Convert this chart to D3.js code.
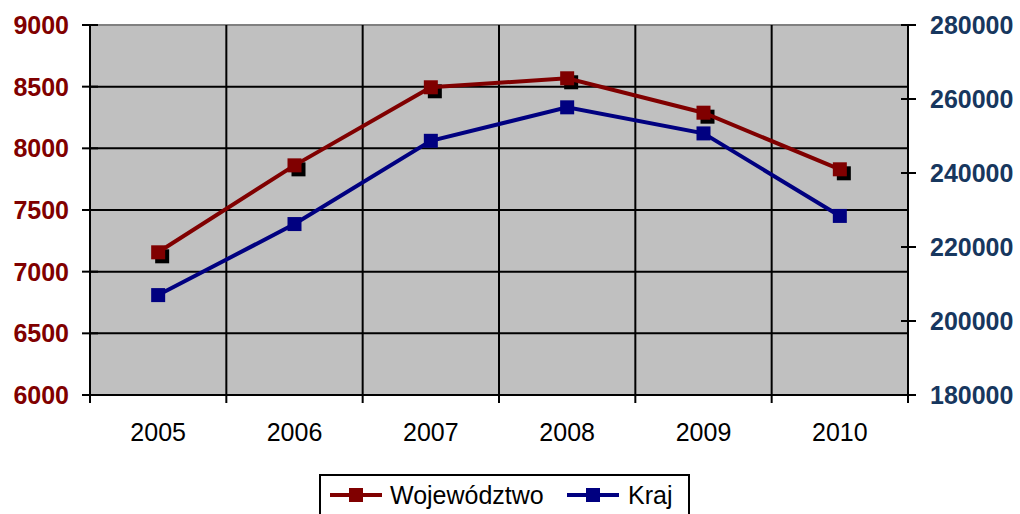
<!DOCTYPE html>
<head>
<meta charset='utf-8'>
<title>Województwo / Kraj</title>
<script src='https://d3js.org/d3.v7.min.js'></script>
<style>
  html, body { margin: 0; padding: 0; background: #fff; }
  svg { display: block; font-family: Arial, 'Liberation Sans', sans-serif; }
</style>
</head>
<body>
<div id='chart'></div>
<script>
// data
var years = ['2005', '2006', '2007', '2008', '2009', '2010'];
var wojewodztwo = [7157, 7862, 8495, 8568, 8289, 7830];
var kraj = [207000, 226200, 248700, 257750, 250700, 228400];
var leftTicks = [6000, 6500, 7000, 7500, 8000, 8500, 9000];
var rightTicks = [180000, 200000, 220000, 240000, 260000, 280000];

var W = 1020, H = 514;
var pLeft = 90, pRight = 908, pTop = 25, pBottom = 395;

var svg = d3.select('#chart').append('svg')
    .attr('width', W).attr('height', H);

var x = d3.scaleBand().domain(years).range([pLeft, pRight]);
var yL = d3.scaleLinear().domain([6000, 9000]).range([pBottom, pTop]);
var yR = d3.scaleLinear().domain([180000, 280000]).range([pBottom, pTop]);

// plot background
svg.append('rect')
    .attr('x', pLeft).attr('y', pTop)
    .attr('width', pRight - pLeft).attr('height', pBottom - pTop)
    .attr('fill', '#c0c0c0');

// top border grey
svg.append('line')
    .attr('x1', pLeft).attr('x2', pRight).attr('y1', pTop).attr('y2', pTop)
    .attr('stroke', '#808080').attr('stroke-width', 2);

// horizontal grid
svg.selectAll('.hgrid')
    .data(leftTicks.filter(function(d){ return d > 6000 && d < 9000; }))
    .enter().append('line')
    .attr('x1', pLeft).attr('x2', pRight)
    .attr('y1', function(d){ return yL(d); })
    .attr('y2', function(d){ return yL(d); })
    .attr('stroke', '#000').attr('stroke-width', 2);

// vertical grid at category boundaries (also x ticks)
var bounds = years.map(function(d){ return x(d); }).concat([pRight]);
svg.selectAll('.vgrid')
    .data(bounds)
    .enter().append('line')
    .attr('x1', function(d){ return d; }).attr('x2', function(d){ return d; })
    .attr('y1', pTop).attr('y2', pBottom + 8)
    .attr('stroke', '#000').attr('stroke-width', 2);

// bottom axis line
svg.append('line')
    .attr('x1', pLeft - 8).attr('x2', pRight + 8).attr('y1', pBottom).attr('y2', pBottom)
    .attr('stroke', '#000').attr('stroke-width', 2);

// left axis
svg.append('line')
    .attr('x1', pLeft).attr('x2', pLeft).attr('y1', pTop).attr('y2', pBottom + 8)
    .attr('stroke', '#000').attr('stroke-width', 2);
svg.selectAll('.ltick')
    .data(leftTicks).enter().append('line')
    .attr('x1', pLeft - 8).attr('x2', pLeft + 8)
    .attr('y1', function(d){ return yL(d); }).attr('y2', function(d){ return yL(d); })
    .attr('stroke', '#000').attr('stroke-width', 2);
svg.selectAll('.llab')
    .data(leftTicks).enter().append('text')
    .attr('x', 69).attr('y', function(d){ return yL(d); })
    .attr('dy', '0.36em')
    .attr('text-anchor', 'end')
    .attr('font-size', 25).attr('font-weight', 'bold')
    .attr('fill', '#800000')
    .text(function(d){ return d; });

// right axis
svg.append('line')
    .attr('x1', pRight).attr('x2', pRight).attr('y1', pTop).attr('y2', pBottom + 8)
    .attr('stroke', '#000').attr('stroke-width', 2);
svg.selectAll('.rtick')
    .data(rightTicks).enter().append('line')
    .attr('x1', pRight - 7).attr('x2', pRight + 8)
    .attr('y1', function(d){ return yR(d); }).attr('y2', function(d){ return yR(d); })
    .attr('stroke', '#000').attr('stroke-width', 2);
svg.selectAll('.rlab')
    .data(rightTicks).enter().append('text')
    .attr('x', 930).attr('y', function(d){ return yR(d); })
    .attr('dy', '0.36em')
    .attr('font-size', 25).attr('font-weight', 'bold')
    .attr('fill', '#17375e')
    .text(function(d){ return d; });

// x labels
svg.selectAll('.xlab')
    .data(years).enter().append('text')
    .attr('x', function(d){ return x(d) + x.bandwidth() / 2; })
    .attr('y', 441)
    .attr('text-anchor', 'middle')
    .attr('font-size', 25)
    .attr('fill', '#000')
    .text(function(d){ return d; });

function cx(d, i){ return x(years[i]) + x.bandwidth() / 2; }

function series(values, scale, color, shadow){
    var line = d3.line()
        .x(function(d, i){ return cx(d, i); })
        .y(function(d){ return scale(d); });
    if (shadow) {
        svg.append('g').selectAll('rect')
            .data(values).enter().append('rect')
            .attr('x', function(d, i){ return cx(d, i) - 7 + 4; })
            .attr('y', function(d){ return scale(d) - 7 + 4; })
            .attr('width', 14).attr('height', 14)
            .attr('fill', '#000');
    }
    svg.append('path')
        .datum(values)
        .attr('d', line)
        .attr('fill', 'none')
        .attr('stroke', color)
        .attr('stroke-width', 4);
    svg.append('g').selectAll('rect')
        .data(values).enter().append('rect')
        .attr('x', function(d, i){ return cx(d, i) - 7; })
        .attr('y', function(d){ return scale(d) - 7; })
        .attr('width', 14).attr('height', 14)
        .attr('fill', color);
}

series(kraj, yR, '#000080', false);
series(wojewodztwo, yL, '#800000', true);

// legend
var lg = svg.append('g');
lg.append('rect')
    .attr('x', 320).attr('y', 475).attr('width', 369).attr('height', 45)
    .attr('fill', '#fff').attr('stroke', '#000').attr('stroke-width', 2);
var items = [
    {name: 'Województwo', color: '#800000', x: 330, tx: 390},
    {name: 'Kraj', color: '#000080', x: 567, tx: 628}
];
items.forEach(function(it){
    lg.append('line')
        .attr('x1', it.x).attr('x2', it.x + 52)
        .attr('y1', 495).attr('y2', 495)
        .attr('stroke', it.color).attr('stroke-width', 4);
    lg.append('rect')
        .attr('x', it.x + 19).attr('y', 488)
        .attr('width', 14).attr('height', 14)
        .attr('fill', it.color);
    lg.append('text')
        .attr('x', it.tx).attr('y', 495).attr('dy', '0.36em')
        .attr('font-size', 25).attr('fill', '#000')
        .text(it.name);
});
</script>
</body>
